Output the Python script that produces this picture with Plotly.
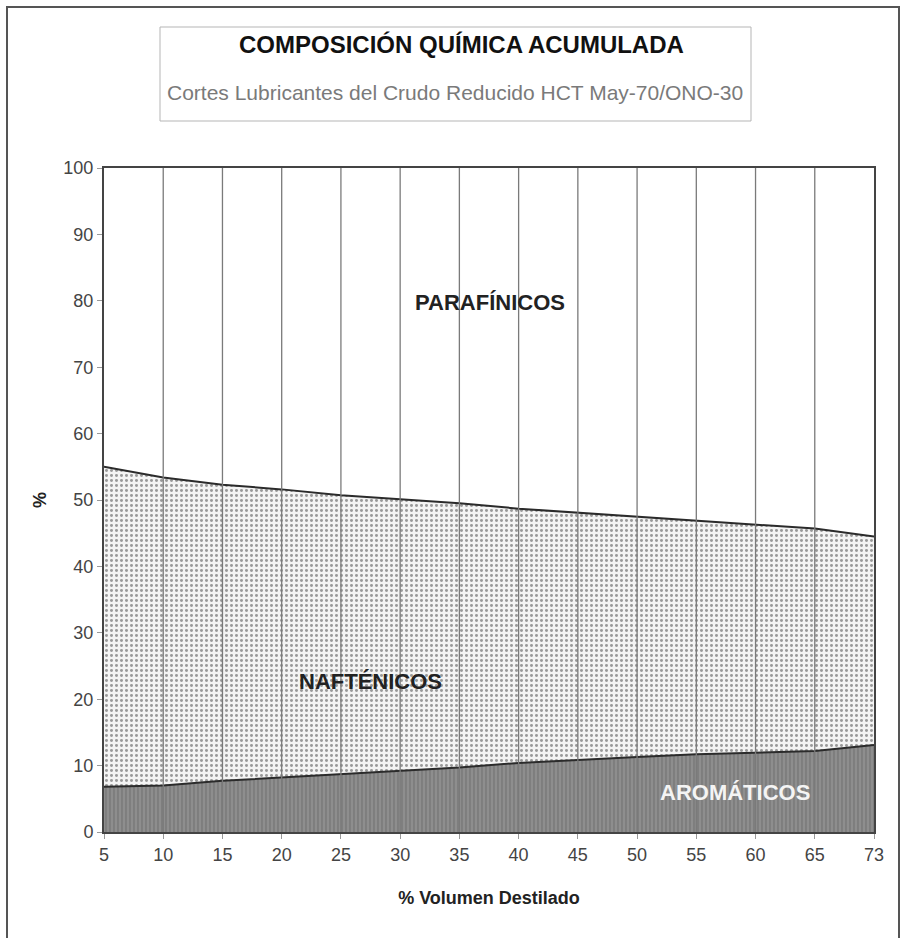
import plotly.graph_objects as go

# % volumen destilado (cortes lubricantes)
cortes = ["5", "10", "15", "20", "25", "30", "35", "40", "45", "50", "55", "60", "65", "73"]

# Composición química de cada corte (% en peso)
aromaticos = [6.8, 7.0, 7.7, 8.2, 8.8, 9.3, 9.7, 10.4, 10.9, 11.3, 11.7, 12.0, 12.2, 13.1]
naftenicos = [48.2, 46.4, 44.6, 43.4, 41.9, 40.8, 39.8, 38.3, 37.2, 36.1, 35.2, 34.3, 33.5, 31.4]
parafinicos = [45.0, 46.6, 47.7, 48.4, 49.3, 49.9, 50.5, 51.3, 51.9, 52.6, 53.1, 53.7, 54.3, 55.5]

y_ticks = [0, 10, 20, 30, 40, 50, 60, 70, 80, 90, 100]

FONT = "Liberation Sans, Arial, sans-serif"
LINE = "#2b2b2b"

fig = go.Figure()

fig.add_trace(go.Scatter(
    x=cortes, y=aromaticos, name="Aromáticos", stackgroup="comp",
    mode="lines", line=dict(color=LINE, width=2),
    fillcolor="#8a8a8a",
    fillpattern=dict(shape="|", bgcolor="#8e8e8e", fgcolor="#747474",
                     size=4, solidity=0.3, fillmode="replace"),
))
fig.add_trace(go.Scatter(
    x=cortes, y=naftenicos, name="Nafténicos", stackgroup="comp",
    mode="lines", line=dict(color=LINE, width=2),
    fillpattern=dict(shape=".", bgcolor="#f4f4f4", fgcolor="#999999",
                     size=5, solidity=0.28, fillmode="replace"),
))
fig.add_trace(go.Scatter(
    x=cortes, y=parafinicos, name="Parafínicos", stackgroup="comp",
    mode="lines", line=dict(color="rgba(0,0,0,0)", width=0),
    fillcolor="rgba(255,255,255,0)",
))

shapes = []
# vertical grid lines at each cut, drawn over the filled areas
for i in range(1, len(cortes) - 1):
    shapes.append(dict(type="line", xref="x", yref="y", x0=i, x1=i, y0=0, y1=100,
                       line=dict(color="#7a7a7a", width=1.3), layer="above"))
# title box
shapes.append(dict(type="rect", xref="paper", yref="paper",
                   x0=(160 - 104) / 770, x1=(751 - 104) / 770,
                   y0=(832 - 121) / 664, y1=(832 - 27) / 664,
                   line=dict(color="#b5b5b5", width=1)))
# outer frame
shapes.append(dict(type="rect", xref="paper", yref="paper",
                   x0=(7 - 104) / 770, x1=(899 - 104) / 770,
                   y0=(832 - 960) / 664, y1=(832 - 7) / 664,
                   line=dict(color="#555555", width=2)))

annotations = [
    dict(text="<b>COMPOSICIÓN QUÍMICA ACUMULADA</b>", xref="paper", yref="paper",
         x=(461 - 104) / 770, y=(832 - 45) / 664, yanchor="middle", showarrow=False,
         font=dict(family=FONT, size=24, color="#111111")),
    dict(text="Cortes Lubricantes del Crudo Reducido HCT May-70/ONO-30", xref="paper", yref="paper",
         x=(455 - 104) / 770, y=(832 - 93) / 664, yanchor="middle", showarrow=False,
         font=dict(family=FONT, size=21, color="#7a7a7a")),
    dict(text="<b>PARAFÍNICOS</b>", x=6.52, y=79.7, xref="x", yref="y", showarrow=False,
         font=dict(family=FONT, size=22, color="#222222")),
    dict(text="<b>NAFTÉNICOS</b>", x=4.5, y=22.7, xref="x", yref="y", showarrow=False,
         font=dict(family=FONT, size=22, color="#222222")),
    dict(text="<b>AROMÁTICOS</b>", x=10.65, y=6.0, xref="x", yref="y", showarrow=False,
         font=dict(family=FONT, size=22, color="#f4f4f4")),
]

fig.update_layout(
    width=902, height=938,
    margin=dict(l=104, r=28, t=168, b=106),
    paper_bgcolor="white", plot_bgcolor="white",
    showlegend=False,
    font=dict(family=FONT, color="#444444", size=18),
    shapes=shapes, annotations=annotations,
    xaxis=dict(
        type="category", range=[0, len(cortes) - 1],
        showgrid=False, showline=True, linecolor="#444444", linewidth=2, mirror=True,
        ticks="outside", ticklen=5, tickcolor="#999999",
        tickfont=dict(size=18, color="#444444"),
        title=dict(text="<b>% Volumen Destilado</b>", font=dict(size=18, color="#222222"), standoff=28),
    ),
    yaxis=dict(
        range=[0, 100], tickvals=y_ticks,
        showgrid=False, zeroline=False, showline=True, linecolor="#444444", linewidth=2, mirror=True,
        ticks="outside", ticklen=5, tickcolor="#999999",
        tickfont=dict(size=18, color="#444444"),
        title=dict(text="<b>%</b>", font=dict(size=18, color="#222222"), standoff=12),
    ),
)

fig.write_html("out.html")
